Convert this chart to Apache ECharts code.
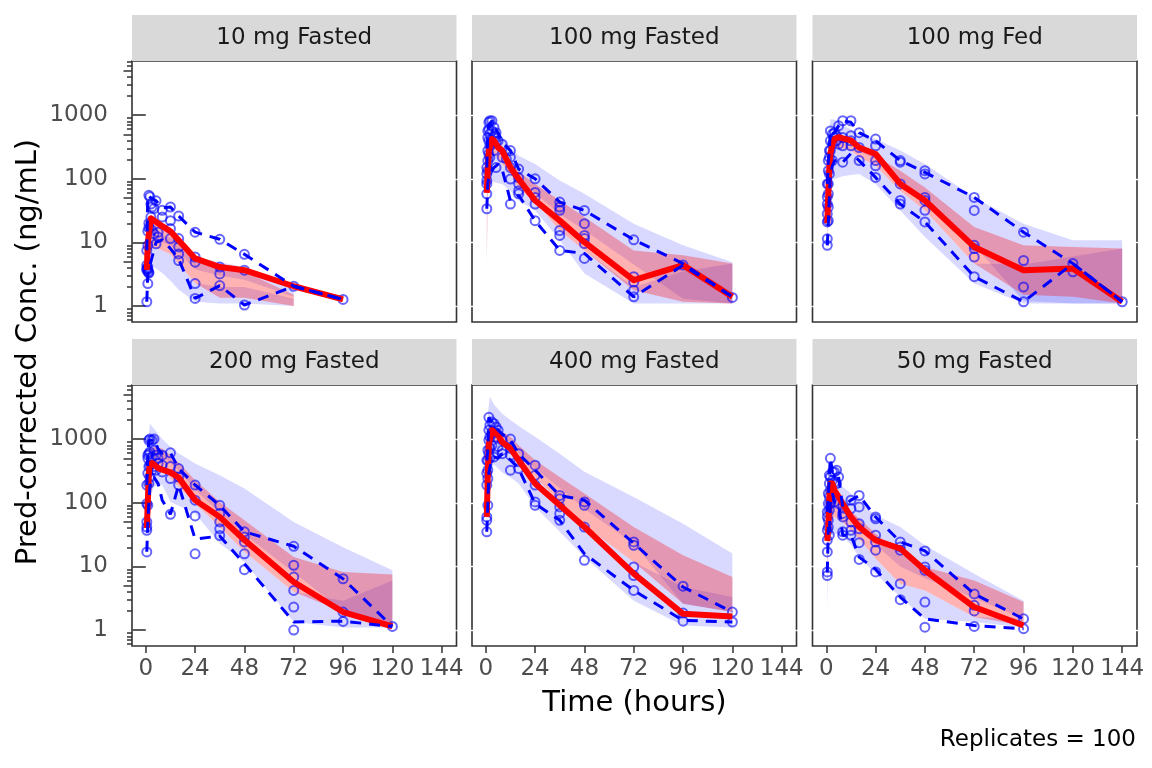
<!DOCTYPE html>
<html>
<head>
<meta charset="utf-8">
<title>VPC by dose group</title>
<script src="https://cdn.jsdelivr.net/npm/echarts@6/dist/echarts.min.js"></script>
<style>
  html, body { margin: 0; padding: 0; background: #fff; }
  #main { width: 1152px; height: 768px; }
</style>
</head>
<body>
<div id="main"></div>
<script>
// facet titles (panel order left->right, top->bottom)
var facets = ['10 mg Fasted', '100 mg Fasted', '100 mg Fed', '200 mg Fasted', '400 mg Fasted', '50 mg Fasted'];

// axis ticks
var xTicks = [0, 24, 48, 72, 96, 120, 144];
var yTicks = [1, 10, 100, 1000];
var yMidTicks = [5, 50, 500, 5000];
var yMinorTicks = [0.6, 0.7, 0.8, 0.9, 2, 3, 4, 6, 7, 8, 9, 20, 30, 40, 60, 70, 80, 90,
                   200, 300, 400, 600, 700, 800, 900, 2000, 3000, 4000, 6000, 7000];

// ---------- 10 mg Fasted ----------
var binT_10   = [0.5, 1, 2.5, 5, 8, 12, 16, 24, 36, 48, 72, 96];
var obsMed_10 = [3.7, 10, 24, 21, 18, 15, 10.8, 5.6, 4.1, 3.66, 2.05, 1.27];
var obs95_10  = [7.5, 55, 50, 45, 35, 36, 26, 14.5, 11.2, 6.5, 2.05, 1.27];
var obs5_10   = [1.17, 3.3, 5, 10, 11, 8, 5.5, 1.32, 2.1, 1.04, 2.05, 1.27];
var simT_10   = [0.5, 1, 2, 4, 8, 12, 16, 24, 36, 48, 72];
var p5lo_10   = [1.8, 3.5, 3.7, 4.1, 3.3, 2.5, 1.8, 1.17, 1.1, 1.1, 1.0];
var p5hi_10   = [2.5, 4.5, 7, 8.5, 7.5, 6.5, 4.6, 2.3, 2.0, 2.0, 1.3];
var p50lo_10  = [2.5, 4.5, 7, 8.5, 7.5, 6.5, 4.6, 2.3, 1.35, 1.35, 1.0];
var p50hi_10  = [4.5, 9, 16, 22, 19, 16, 10, 5.6, 4.1, 3.45, 1.5];
var p95lo_10  = [3.5, 6, 9, 10, 10, 9, 7, 3.8, 3.0, 2.6, 1.4];
var p95hi_10  = [5, 10, 12, 12.5, 12.5, 12, 11.5, 5.9, 4.9, 4.1, 1.8];
var pts_10 = [
  [0.5, [1.17, 3.7, 3.9, 4.4, 7.5]], [1, [2.26, 4.1, 3.5, 3.8, 15, 9]], [1.5, [3.3, 3.4, 17, 20, 55]],
  [2, [52]], [2.5, [40, 25]], [3, [36, 15.5]], [4, [34, 13.7]], [5, [45, 9.5]], [6, [14.5, 12.2]],
  [8, [32, 25]], [12, [36, 22, 16.5, 11.5]], [16, [26, 11.5, 8.5, 6.6, 5.2]],
  [24, [14.5, 5.9, 4.9, 2.26, 1.32]], [36, [11.2, 4.1, 3.2, 2.1]], [48, [6.5, 3.66, 1.04]],
  [72, [2.05]], [96, [1.27]]
];

// ---------- 100 mg Fasted ----------
var binT_100   = [0.5, 1, 1.5, 3, 4, 6, 8, 12, 16, 24, 36, 48, 72, 96, 120];
var obsMed_100 = [60, 150, 277, 420, 400, 310, 277, 150, 99, 45.5, 22, 10.1, 2.55, 4.4, 1.4];
var obs95_100  = [150, 565, 700, 815, 640, 530, 373, 277, 142, 100, 43, 31.8, 11, 4.65, 1.4];
var obs5_100   = [33.8, 83, 110, 134, 150, 170, 140, 45, 55, 22, 7.5, 6.7, 1.4, 4.4, 1.4];
var simT_100   = [0.5, 1, 2, 4, 8, 12, 16, 24, 36, 48, 72, 96, 120];
var p5lo_100   = [4, 60, 88, 88, 83, 65, 45, 31.8, 10.8, 3.25, 1.1, 1.1, 1.1];
var p5hi_100   = [10, 100, 200, 250, 170, 119, 70, 43, 15.4, 7.5, 2.0, 3.5, 4.65];
var p50lo_100  = [6, 100, 200, 250, 170, 119, 70, 43, 15.4, 7.5, 1.78, 1.17, 1.1];
var p50hi_100  = [60, 250, 450, 450, 330, 193, 130, 83, 45.6, 25, 7.5, 6.3, 4.65];
var p95lo_100  = [40, 200, 380, 380, 250, 150, 100, 60, 28, 15.5, 4.5, 1.3, 1.1];
var p95hi_100  = [150, 500, 800, 700, 450, 310, 230, 170, 94, 58, 19.7, 9, 4.9];
var pts_100 = [
  [0.5, [33.8, 58, 83, 94, 119, 150]], [1, [565, 445, 277, 193, 134]], [1.5, [770, 600, 395, 245]],
  [2, [815, 505, 330, 217]], [3, [815, 565, 350]], [4, [640, 445, 277]], [5, [530, 373, 150]],
  [6, [395]], [8, [350, 217]], [10, [205]], [12, [277, 217, 150, 99, 40]],
  [16, [142, 104, 83, 65, 58]], [24, [100, 61, 51, 40, 22]], [36, [43, 36, 32, 15.4, 12.9, 7.5]],
  [48, [31.8, 19.7, 12.9, 11.5, 9.6, 5.6]], [72, [11, 2.9, 2.4, 1.78, 1.4]], [96, [4.4]], [120, [1.37]]
];

// ---------- 100 mg Fed ----------
var binT_fed   = [0.5, 1, 1.5, 2, 3, 4, 6, 8, 12, 16, 24, 36, 48, 72, 96, 120, 144];
var obsMed_fed = [20, 60, 150, 250, 350, 420, 450, 430, 400, 310, 245, 83, 45.5, 8.5, 3.66, 3.9, 1.17];
var obs95_fed  = [83, 193, 300, 565, 505, 530, 680, 815, 770, 530, 395, 193, 126, 51, 14.5, 4.65, 1.17];
var obs5_fed   = [9, 20, 52, 120, 160, 190, 200, 182, 250, 193, 105, 40, 21, 2.9, 1.17, 4.65, 1.17];
var simT_fed   = [0.5, 1, 2, 4, 8, 12, 16, 24, 36, 48, 72, 96, 120, 144];
var p5lo_fed   = [4.6, 40, 94, 99, 110, 115, 119, 83, 31.8, 12.2, 2.26, 1.1, 1.1, 1.1];
var p5hi_fed   = [8, 40, 150, 300, 300, 280, 220, 160, 65, 31.8, 4.65, 4.5, 6, 8];
var p50lo_fed  = [8, 40, 150, 300, 300, 280, 220, 160, 65, 31.8, 4.65, 1.5, 1.4, 1.1];
var p50hi_fed  = [30, 100, 300, 500, 480, 420, 310, 230, 134, 73, 17.5, 9, 8.5, 8];
var p95lo_fed  = [20, 80, 250, 420, 400, 350, 270, 200, 95, 50, 9, 1.2, 1.1, 1.1];
var p95hi_fed  = [100, 400, 860, 850, 700, 600, 500, 420, 277, 170, 51, 19.7, 10.8, 10.8];
var pts_fed = [
  [0.5, [9, 11.4, 21, 28, 40, 52, 83]], [1, [22, 36, 58, 83, 134, 193]], [1.5, [277, 217, 119]],
  [2, [565, 395, 277]], [3, [505, 350, 193]], [4, [445, 530]], [5, [475, 395]], [6, [680, 350]],
  [8, [815, 445, 330, 182]], [12, [815, 475, 395, 330]], [16, [530, 310, 193]],
  [24, [420, 330, 193, 160, 105]], [36, [193, 182, 83, 45.6, 40]], [48, [134, 119, 51, 45.6, 32, 21]],
  [72, [51, 31.8, 9, 8, 5.9, 2.9]], [96, [14.5, 5.2, 2.0, 1.17]], [120, [4.65, 3.45]], [144, [1.17]]
];

// ---------- 200 mg Fasted ----------
var binT_200   = [0.5, 1, 1.5, 2, 3, 4, 6, 8, 12, 16, 24, 36, 48, 72, 96, 120];
var obsMed_200 = [40, 100, 300, 400, 420, 400, 350, 330, 300, 250, 110, 60, 26, 5.7, 1.92, 1.14];
var obs95_200  = [190, 560, 960, 1000, 960, 1000, 700, 600, 610, 345, 190, 91, 35, 20.7, 6.4, 1.14];
var obs5_200   = [17, 47, 100, 180, 250, 250, 200, 110, 66, 190, 27, 30, 11, 1.34, 1.38, 1.14];
var simT_200   = [0.5, 1, 2, 4, 8, 12, 16, 24, 36, 48, 72, 96, 120];
var p5lo_200   = [20, 60, 120, 180, 190, 103, 90, 68, 23, 11.7, 1.34, 1.1, 1.1];
var p5hi_200   = [30, 120, 300, 350, 345, 240, 180, 97, 41.6, 17, 4, 2.9, 6];
var p50lo_200  = [30, 120, 300, 350, 345, 240, 180, 97, 41.6, 17, 4, 1.92, 1.18];
var p50hi_200  = [60, 300, 700, 750, 710, 560, 430, 225, 103, 53, 14, 8.2, 7.5];
var p95lo_200  = [45, 220, 550, 600, 560, 420, 320, 160, 70, 32, 8, 2.0, 1.1];
var p95hi_200  = [200, 800, 1750, 1450, 1000, 760, 600, 415, 270, 167, 50, 20, 8.7];
var pts_200 = [
  [0.5, [16.9, 37, 41.6, 50, 97, 190]], [1, [91, 290, 500, 560]], [1.5, [960, 590, 370, 200]],
  [2, [1000, 630, 390, 255]], [3, [960, 525, 325]], [4, [1000, 670, 370]], [5, [560, 325]],
  [6, [500, 415]], [8, [560, 390, 305]], [12, [610, 370, 240, 66]], [16, [345, 255, 190]],
  [24, [190, 110, 62, 15.8]], [36, [91, 68, 50, 39, 30.6]], [48, [35, 29, 24.3, 15.8, 8.9]],
  [72, [20.7, 10.4, 6.8, 4.2, 2.3, 1.0]], [96, [6.4, 1.92, 1.37]], [120, [1.14]]
];

// ---------- 400 mg Fasted ----------
var binT_400   = [0.5, 1, 1.5, 3, 4, 6, 8, 12, 16, 24, 36, 48, 72, 96, 120];
var obsMed_400 = [60, 300, 850, 1380, 1300, 1150, 900, 715, 465, 200, 91, 41.6, 7.7, 1.8, 1.64];
var obs95_400  = [465, 670, 2200, 1850, 1750, 1380, 1200, 960, 590, 325, 130, 110, 23, 4.75, 1.92];
var obs5_400   = [35, 91, 300, 500, 525, 500, 590, 470, 345, 97, 53, 15.8, 4.2, 1.42, 1.34];
var simT_400   = [0.5, 1, 2, 4, 8, 12, 16, 24, 36, 48, 72, 96, 120];
var p5lo_400   = [18, 100, 300, 400, 300, 250, 200, 86, 35, 14, 2.9, 1.18, 1.1];
var p5hi_400   = [40, 200, 700, 900, 800, 630, 420, 255, 103, 44, 11.7, 4.75, 3.3];
var p50lo_400  = [40, 200, 700, 900, 800, 630, 420, 255, 103, 44, 11.7, 2.6, 1.92];
var p50hi_400  = [100, 700, 1500, 1600, 1300, 1090, 800, 465, 255, 140, 41.6, 15, 6.8];
var p95lo_400  = [70, 450, 1100, 1250, 1050, 850, 600, 350, 170, 80, 23, 2.6, 1.92];
var p95hi_400  = [500, 2500, 4650, 3500, 2500, 2000, 1600, 1090, 590, 306, 123, 47, 15.9];
var pts_400 = [
  [0.5, [35, 53, 60, 190, 290, 465]], [1, [670, 465, 325, 240, 91]], [1.5, [2200, 1380, 960, 590]],
  [2, [1650, 1080, 715, 500]], [3, [1850, 1300, 800]], [4, [1750, 1250, 525]], [5, [1550, 1080]],
  [6, [1380, 760]], [8, [960, 670, 590]], [12, [1000, 715, 560, 325]], [16, [590, 440, 345]],
  [24, [390, 270, 190, 103, 91]], [36, [130, 116, 86, 68, 53]], [48, [103, 91, 41.6, 12.5]],
  [72, [24.3, 21.5, 9.8, 7.2, 4.2]], [96, [4.9, 1.85, 1.38]], [120, [1.92, 1.34]]
];

// ---------- 50 mg Fasted ----------
var binT_50   = [0.5, 1, 1.5, 2, 3, 4, 6, 8, 12, 16, 24, 36, 48, 72, 96];
var obsMed_50 = [25, 41.6, 124, 200, 200, 157, 124, 97, 60, 41.6, 25.8, 19.1, 8.7, 2.3, 1.18];
var obs95_50  = [72, 140, 270, 500, 305, 305, 255, 86, 110, 130, 60, 24.3, 17.5, 3.7, 1.5];
var obs5_50   = [8, 41.6, 31, 97, 140, 103, 97, 31, 31, 14, 9, 3.3, 1.5, 1.18, 1.05];
var simT_50   = [0.5, 1, 2, 4, 8, 12, 16, 24, 36, 48, 72, 96];
var p5lo_50   = [2.0, 15, 30, 33, 30, 22, 14, 7.7, 3.3, 1.5, 1.34, 1.1];
var p5hi_50   = [5, 25, 50, 60, 50, 36, 27, 13.3, 5.35, 4.2, 1.6, 1.5];
var p50lo_50  = [5, 25, 50, 60, 50, 36, 27, 13.3, 5.35, 4.2, 1.6, 1.18];
var p50hi_50  = [20, 60, 120, 130, 100, 75, 56, 33, 15.8, 9.8, 6.0, 2.75];
var p95lo_50  = [12, 40, 85, 95, 75, 55, 40, 22, 10, 6.5, 3.2, 1.5];
var p95hi_50  = [60, 150, 200, 180, 180, 140, 100, 64, 41.6, 21.5, 7.7, 2.9];
var pts_50 = [
  [0.5, [7.2, 8.2, 16.9, 25.8, 37, 60, 72]], [1, [140, 97, 53, 41.6]], [1.5, [270, 200, 124, 76, 31]],
  [2, [500, 255, 157, 97]], [3, [305, 225, 140]], [4, [305, 212, 103]], [5, [325, 200]], [6, [255, 97]],
  [8, [86, 68, 60, 35, 31]], [12, [110, 81, 50, 37, 31]], [16, [130, 86, 47, 39, 23.6, 12.9]],
  [24, [60, 56, 31, 24.3, 18, 8.2]], [36, [24.3, 20.2, 18, 5.35, 3.0]], [48, [17.5, 9.8, 8.7, 2.75, 1.11]],
  [72, [3.7, 2.45, 2.0, 1.14]], [96, [1.5, 1.05]]
];

var facetData = [
  { bin: binT_10, med: obsMed_10, q95: obs95_10, q05: obs5_10, sim: simT_10,
    p5: [p5lo_10, p5hi_10], p50: [p50lo_10, p50hi_10], p95: [p95lo_10, p95hi_10], pts: pts_10 },
  { bin: binT_100, med: obsMed_100, q95: obs95_100, q05: obs5_100, sim: simT_100,
    p5: [p5lo_100, p5hi_100], p50: [p50lo_100, p50hi_100], p95: [p95lo_100, p95hi_100], pts: pts_100 },
  { bin: binT_fed, med: obsMed_fed, q95: obs95_fed, q05: obs5_fed, sim: simT_fed,
    p5: [p5lo_fed, p5hi_fed], p50: [p50lo_fed, p50hi_fed], p95: [p95lo_fed, p95hi_fed], pts: pts_fed },
  { bin: binT_200, med: obsMed_200, q95: obs95_200, q05: obs5_200, sim: simT_200,
    p5: [p5lo_200, p5hi_200], p50: [p50lo_200, p50hi_200], p95: [p95lo_200, p95hi_200], pts: pts_200 },
  { bin: binT_400, med: obsMed_400, q95: obs95_400, q05: obs5_400, sim: simT_400,
    p5: [p5lo_400, p5hi_400], p50: [p50lo_400, p50hi_400], p95: [p95lo_400, p95hi_400], pts: pts_400 },
  { bin: binT_50, med: obsMed_50, q95: obs95_50, q05: obs5_50, sim: simT_50,
    p5: [p5lo_50, p5hi_50], p50: [p50lo_50, p50hi_50], p95: [p95lo_50, p95hi_50], pts: pts_50 }
];

// layout
var FONT = '"DejaVu Sans", "Liberation Sans", sans-serif';
var gridLeft = [132, 472, 812.5];
var gridTop = [61, 385];
var gridW = 324.5, gridH = 261, stripH = 46;
var X_MIN = -6.7, X_MAX = 151.2;
var Y_MIN = 0.5623, Y_MAX = 7079;
var BLUE_FILL = 'rgba(0,0,255,0.15)';
var RED_FILL = 'rgba(255,0,0,0.3)';

function pairs(t, v) {
  return t.map(function (x, i) { return [x, v[i]]; });
}
function flatPts(groups) {
  var out = [];
  groups.forEach(function (g) {
    g[1].forEach(function (v) { out.push([g[0], v]); });
  });
  return out;
}

// ribbon between lo and hi, drawn as one polygon through the axis scales
function ribbonSeries(k, t, lo, hi, color) {
  var rows = t.map(function (x, i) { return [x, lo[i], hi[i]]; });
  return {
    type: 'custom', xAxisIndex: k, yAxisIndex: k, silent: true,
    data: rows, encode: { x: 0, y: [1, 2] },
    renderItem: function (params, api) {
      if (params.dataIndex !== 0) return null;
      var pts = [], i;
      for (i = 0; i < rows.length; i++) pts.push(api.coord([rows[i][0], rows[i][2]]));
      for (i = rows.length - 1; i >= 0; i--) pts.push(api.coord([rows[i][0], rows[i][1]]));
      return { type: 'polygon', shape: { points: pts }, style: { fill: color, stroke: null } };
    }
  };
}

var grids = [], xAxes = [], yAxes = [], series = [], graphics = [];

facetData.forEach(function (f, k) {
  var col = k % 3, row = Math.floor(k / 3);
  var isLeft = col === 0, isBottom = row === 1;
  grids.push({
    left: gridLeft[col], top: gridTop[row], width: gridW, height: gridH,
    show: true, borderColor: '#333', borderWidth: 1.6, backgroundColor: '#fff'
  });
  xAxes.push({
    type: 'value', gridIndex: k, min: X_MIN, max: X_MAX,
    axisLine: { show: false }, splitLine: { show: false },
    axisTick: isBottom ? { show: true, customValues: xTicks, length: 7,
      lineStyle: { color: '#333', width: 1.5 } } : { show: false },
    axisLabel: isBottom ? { show: true, customValues: xTicks, margin: 12,
      fontSize: 23, fontFamily: FONT, color: '#4d4d4d' } : { show: false }
  });
  yAxes.push({
    type: 'log', logBase: 10, gridIndex: k, position: 'left', min: Y_MIN, max: Y_MAX,
    axisLine: { show: false }, splitLine: { show: false },
    axisTick: isLeft ? { show: true, customValues: yTicks, length: 13,
      lineStyle: { color: '#333', width: 1.6 } } : { show: false },
    axisLabel: isLeft ? { show: true, customValues: yTicks, margin: 24,
      fontSize: 23, fontFamily: FONT, color: '#4d4d4d',
      formatter: function (v) { return String(Math.round(v)); } } : { show: false }
  });

  series.push(ribbonSeries(k, f.sim, f.p5[0], f.p5[1], BLUE_FILL));
  series.push(ribbonSeries(k, f.sim, f.p95[0], f.p95[1], BLUE_FILL));
  series.push(ribbonSeries(k, f.sim, f.p50[0], f.p50[1], RED_FILL));

  series.push({
    type: 'line', xAxisIndex: k, yAxisIndex: k, symbol: 'none', silent: true,
    lineStyle: { color: '#ff0000', width: 6, join: 'round' },
    data: pairs(f.bin, f.med)
  });
  [f.q05, f.q95].forEach(function (q) {
    series.push({
      type: 'line', xAxisIndex: k, yAxisIndex: k, symbol: 'none', silent: true,
      lineStyle: { color: '#0000ff', width: 3, type: [11, 8] },
      data: pairs(f.bin, q)
    });
  });
  series.push({
    type: 'scatter', xAxisIndex: k, yAxisIndex: k, symbol: 'circle', symbolSize: 9, silent: true,
    itemStyle: { color: 'rgba(0,0,0,0)', borderColor: 'rgba(0,0,255,0.75)', borderWidth: 2 },
    data: flatPts(f.pts)
  });

  // facet strip
  var sx = gridLeft[col], sy = gridTop[row] - stripH;
  graphics.push({ type: 'rect', silent: true, z: 10,
    shape: { x: sx, y: sy, width: gridW, height: stripH }, style: { fill: '#d9d9d9' } });
  graphics.push({ type: 'text', silent: true, z: 11, x: sx + gridW / 2, y: sy + stripH / 2,
    style: { text: facets[k], fill: '#1a1a1a', fontSize: 23, fontFamily: FONT,
      align: 'center', verticalAlign: 'middle' } });
});

// small white notches where the (white) major grid lines cross the panel border
facetData.forEach(function (f, k) {
  var sides = k % 3 === 0 ? ['right'] : ['left', 'right'];
  sides.forEach(function (side) {
    [true, false].forEach(function (inside) {
      yAxes.push({
        type: 'log', logBase: 10, gridIndex: k, position: side, min: Y_MIN, max: Y_MAX, z: 5,
        axisLine: { show: false }, splitLine: { show: false }, axisLabel: { show: false },
        axisTick: { show: true, inside: inside, customValues: yTicks, length: 2.5,
          lineStyle: { color: '#fff', width: 1.4 } }
      });
    });
  });
});

// log minor ticks on the left column
[0, 3].forEach(function (k) {
  [[yMidTicks, 8.5], [yMinorTicks, 5]].forEach(function (m) {
    yAxes.push({
      type: 'log', logBase: 10, gridIndex: k, position: 'left', min: Y_MIN, max: Y_MAX,
      axisLine: { show: false }, splitLine: { show: false }, axisLabel: { show: false },
      axisTick: { show: true, customValues: m[0], length: m[1],
        lineStyle: { color: '#333', width: 1.5 } }
    });
  });
});

// titles and caption
graphics.push({ type: 'text', silent: true, x: 634.5, y: 703,
  style: { text: 'Time (hours)', fill: '#000', fontSize: 29, fontFamily: FONT,
    align: 'center', verticalAlign: 'middle' } });
graphics.push({ type: 'text', silent: true, x: 28, y: 352, rotation: Math.PI / 2,
  style: { text: 'Pred-corrected Conc. (ng/mL)', fill: '#000', fontSize: 29, fontFamily: FONT,
    align: 'center', verticalAlign: 'middle' } });
graphics.push({ type: 'text', silent: true, x: 1136, y: 740,
  style: { text: 'Replicates = 100', fill: '#000', fontSize: 23, fontFamily: FONT,
    align: 'right', verticalAlign: 'middle' } });

var chart = echarts.init(document.getElementById('main'), null, { renderer: 'canvas' });
chart.setOption({
  animation: false,
  backgroundColor: '#fff',
  textStyle: { fontFamily: FONT },
  grid: grids,
  xAxis: xAxes,
  yAxis: yAxes,
  series: series,
  graphic: graphics
});
</script>
</body>
</html>
